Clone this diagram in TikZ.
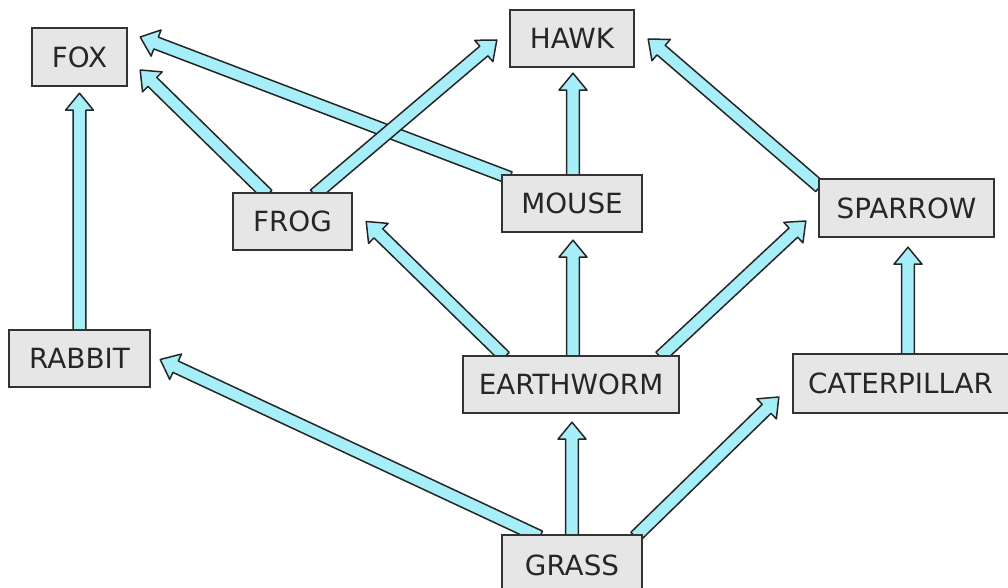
\documentclass[tikz,border=0pt]{standalone}
\usepackage{fontspec}
\setmainfont{DejaVu Sans}
\usetikzlibrary{calc}
\definecolor{boxfill}{HTML}{E6E6E6}
\definecolor{boxline}{HTML}{333333}
\definecolor{arrfill}{HTML}{A6EEF8}
\definecolor{arrline}{HTML}{262626}
\tikzset{
  animal/.style={draw=boxline, fill=boxfill, line width=1.4pt, inner sep=0pt,
    font=\fontsize{27.8}{30}\selectfont, text=black!85},
  fatarr/.style={draw=arrline, fill=arrfill, line width=1.5pt, line join=round}
}
\newcommand{\fatarrow}[2]{%
  \coordinate (fa-a) at #1;
  \coordinate (fa-b) at #2;
  \coordinate (fa-c) at ($(fa-b)!17pt!(fa-a)$);
  \filldraw[fatarr] ($(fa-a)!6.3pt!90:(fa-b)$) -- ($(fa-c)!6.3pt!90:(fa-b)$)
    -- ($(fa-c)!14pt!90:(fa-b)$) -- (fa-b) -- ($(fa-c)!14pt!-90:(fa-b)$)
    -- ($(fa-c)!6.3pt!-90:(fa-b)$) -- ($(fa-a)!6.3pt!-90:(fa-b)$) -- cycle;
}
\begin{document}
\begin{tikzpicture}[x=1pt,y=-1pt]
\useasboundingbox (0,0) rectangle (1008,588);
\clip (0,0) rectangle (1008,588);
\path
  (79.5,57) coordinate (fox-c)
  (572,38.5) coordinate (hawk-c)
  (292.5,221.5) coordinate (frog-c)
  (572,203.5) coordinate (mouse-c)
  (906.5,208) coordinate (sparrow-c)
  (79.5,358.5) coordinate (rabbit-c)
  (571,384.5) coordinate (earthworm-c)
  (907,383.5) coordinate (caterpillar-c)
  (572,568) coordinate (grass-c);
\path
  node[minimum width=95pt, minimum height=58pt] (fox) at (fox-c) {}
  node[minimum width=124pt, minimum height=57pt] (hawk) at (hawk-c) {}
  node[minimum width=119pt, minimum height=57pt] (frog) at (frog-c) {}
  node[minimum width=140pt, minimum height=57pt] (mouse) at (mouse-c) {}
  node[minimum width=175pt, minimum height=58pt] (sparrow) at (sparrow-c) {}
  node[minimum width=141pt, minimum height=57pt] (rabbit) at (rabbit-c) {}
  node[minimum width=216pt, minimum height=57pt] (earthworm) at (earthworm-c) {}
  node[minimum width=228pt, minimum height=59pt] (caterpillar) at (caterpillar-c) {}
  node[minimum width=140pt, minimum height=66pt] (grass) at (grass-c) {};
% arrows
\fatarrow{(rabbit.north)}{($(fox.south)+(0,7)$)}
\fatarrow{($(frog.north)+(-25,2)$)}{($(fox.east)+(13,13)$)}
\fatarrow{($(mouse.north west)+(8,3)$)}{($(fox.east)+(13,-20)$)}
\fatarrow{($(frog.north)+(22,2)$)}{($(hawk.west)+(-13,1.5)$)}
\fatarrow{($(mouse.north)+(1,3)$)}{($(hawk.south)+(1,6)$)}
\fatarrow{($(sparrow.north west)+(1,8)$)}{($(hawk.east)+(14,0.5)$)}
\fatarrow{($(earthworm.north west)+(42,1)$)}{($(frog.east)+(14,0)$)}
\fatarrow{($(earthworm.north)+(2,2)$)}{($(mouse.south)+(1,8)$)}
\fatarrow{($(earthworm.north east)+(-19,1)$)}{($(sparrow.west)+(-13,13)$)}
\fatarrow{($(caterpillar.north)+(1,2)$)}{($(sparrow.south)+(1.5,10)$)}
\fatarrow{($(grass.north west)+(38,2)$)}{($(rabbit.east)+(10,1)$)}
\fatarrow{($(grass.north)+(0,2)$)}{($(earthworm.south)+(1,9)$)}
\fatarrow{($(grass.north east)+(-7,2)$)}{($(caterpillar.west)+(-14,13.5)$)}
% boxes on top
\node[animal, minimum width=95pt, minimum height=58pt] at (fox-c) {FOX};
\node[animal, minimum width=124pt, minimum height=57pt] at (hawk-c) {HAWK};
\node[animal, minimum width=119pt, minimum height=57pt] at (frog-c) {FROG};
\node[animal, minimum width=140pt, minimum height=57pt] at (mouse-c) {MOUSE};
\node[animal, minimum width=175pt, minimum height=58pt] at (sparrow-c) {SPARROW};
\node[animal, minimum width=141pt, minimum height=57pt] at (rabbit-c) {RABBIT};
\node[animal, minimum width=216pt, minimum height=57pt] at (earthworm-c) {EARTHWORM};
\node[animal, minimum width=228pt, minimum height=59pt, text width=198pt, align=left] at (caterpillar-c) {CATERPILLAR};
\node[animal, minimum width=140pt, minimum height=66pt] at (grass-c) {\raisebox{6pt}{GRASS}};
\end{tikzpicture}
\end{document}
